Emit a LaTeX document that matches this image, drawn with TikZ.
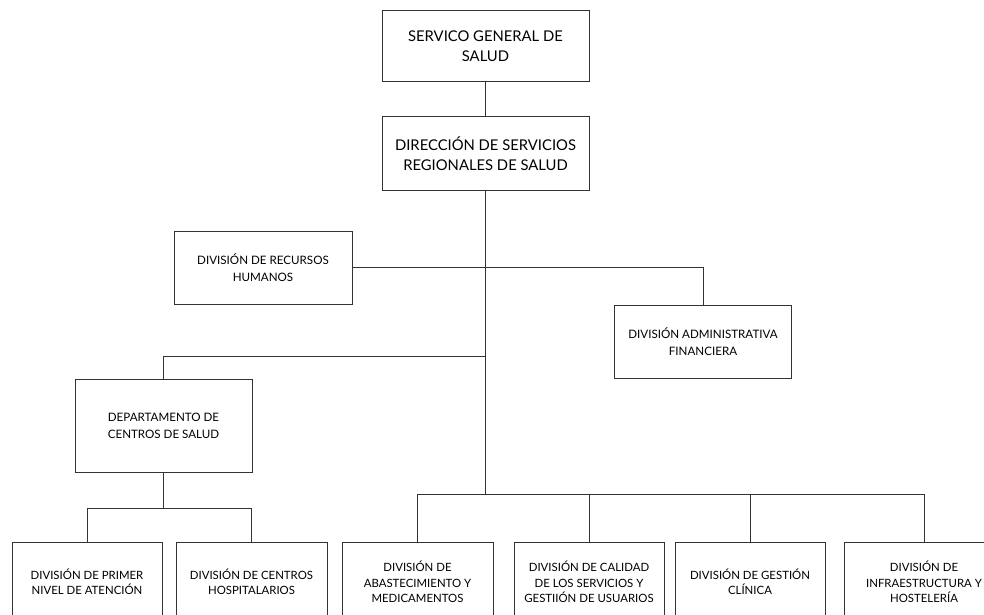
\documentclass[tikz,border=0pt]{standalone}
\usepackage{fontspec}
\setmainfont{Lato}
\usetikzlibrary{positioning}

\tikzset{
  unit/.style={draw=black!80,line width=0.9pt,align=center,inner sep=2pt},
  bigunit/.style={unit,font=\fontsize{14.8}{20}\selectfont},
  midunit/.style={unit,font=\fontsize{11.6}{17}\selectfont},
  lowunit/.style={unit,font=\fontsize{11.4}{15.5}\selectfont,minimum height=80pt},
  link/.style={draw=black!80,line width=0.9pt}
}

\begin{document}
\begin{tikzpicture}[x=1pt,y=-1pt]
  \useasboundingbox (0,0) rectangle (984,614);

  % top of the chart
  \node[bigunit,minimum width=207pt,minimum height=71pt] (sgs) at (485.5,46) {SERVICO GENERAL DE\\SALUD};
  \node[bigunit,minimum width=207pt,minimum height=74pt] (dsr) at (485.5,153.5) {DIRECCIÓN DE SERVICIOS\\REGIONALES DE SALUD};

  % staff units and department
  \node[midunit,minimum width=178pt,minimum height=73pt] (rrhh) at (263,267.5) {DIVISIÓN DE RECURSOS\\HUMANOS};
  \node[midunit,minimum width=177pt,minimum height=73pt] (adm) at (703,341.5) {DIVISIÓN ADMINISTRATIVA\\FINANCIERA};
  \node[midunit,minimum width=177pt,minimum height=93pt] (dep) at (163.5,425.5) {DEPARTAMENTO DE\\CENTROS DE SALUD};

  % bottom row, cut by the lower edge
  \node[lowunit,minimum width=150pt] (pna) at (87,582) {DIVISIÓN DE PRIMER\\NIVEL DE ATENCIÓN};
  \node[lowunit,minimum width=151pt] (hosp) at (251.5,582) {DIVISIÓN DE CENTROS\\HOSPITALARIOS};
  \node[lowunit,minimum width=151pt] (abas) at (417.5,582) {DIVISIÓN DE\\ABASTECIMIENTO Y\\MEDICAMENTOS};
  \node[lowunit,minimum width=150pt] (cal) at (589,582) {DIVISIÓN DE CALIDAD\\DE LOS SERVICIOS Y\\GESTIIÓN DE USUARIOS};
  \node[lowunit,minimum width=150pt] (gc) at (750,582) {DIVISIÓN DE GESTIÓN\\CLÍNICA};
  \node[lowunit,minimum width=160pt] (infra) at (924,582) {DIVISIÓN DE\\INFRAESTRUCTURA Y\\HOSTELERÍA};

  % junctions on the trunk
  \coordinate (jdep) at (485.5,356);
  \coordinate (jbot) at (485.5,494);
  \coordinate (jsub) at (163.5,508);

  % connectors
  \path[link] (sgs) -- (dsr);
  \path[link] (dsr.south) -- (jbot);
  \path[link] (rrhh.east) -| (adm.north);
  \path[link] (jdep) -| (dep.north);
  \path[link] (abas.north) |- (jbot) -| (infra.north);
  \foreach \u in {cal,gc}
    \path[link] (\u.north) -- (\u.north |- jbot);
  \path[link] (dep.south) -- (jsub);
  \path[link] (pna.north) |- (jsub) -| (hosp.north);
\end{tikzpicture}
\end{document}
